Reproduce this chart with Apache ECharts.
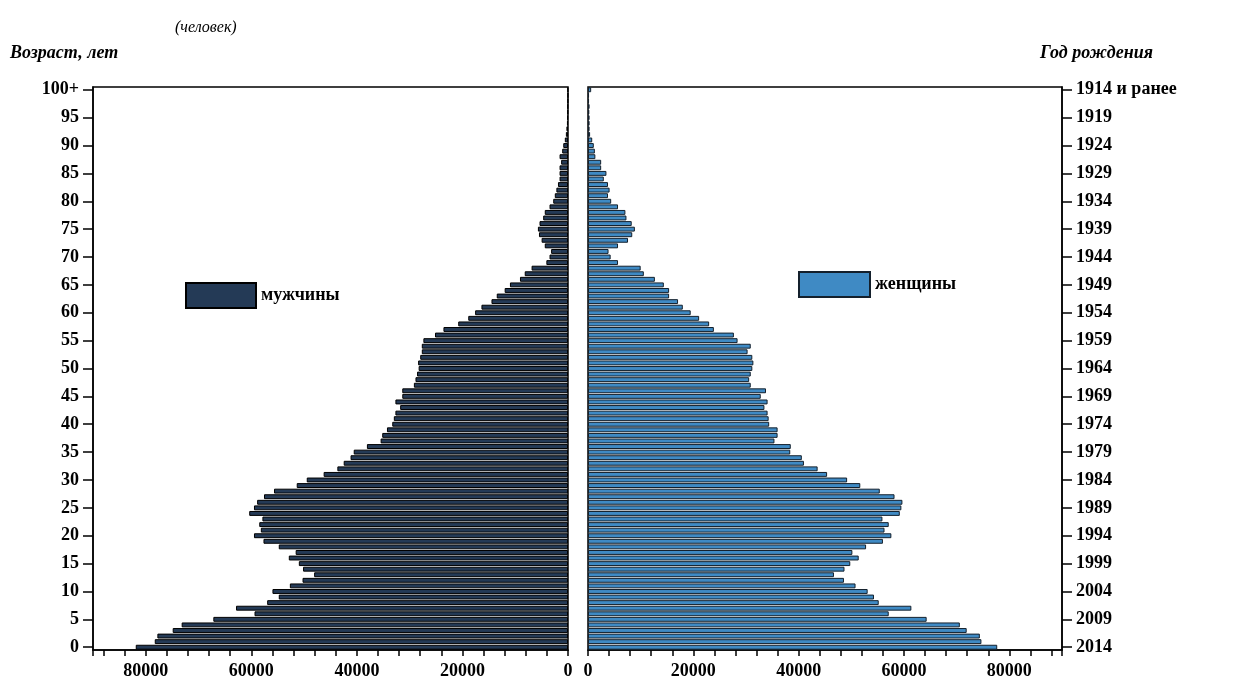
<!DOCTYPE html>
<html lang="ru">
<head>
<meta charset="UTF-8">
<title>Возрастная пирамида</title>
<script src="https://cdn.jsdelivr.net/npm/echarts@6/dist/echarts.min.js"></script>
<style>body{margin:0;background:#fff}</style>
</head>
<body>
<div id="chart" style="width:1239px;height:700px;"></div>
<script>
// возраст 0..100+, значения в тысячах человек
var ages = [];
for (var i = 0; i <= 100; i++) ages.push(i === 100 ? '100+' : String(i));

var men = [81.9,78.3,77.8,74.9,73.2,67.2,59.4,62.9,57.0,54.8,
  56.0,52.7,50.3,48.1,50.2,51.0,52.9,51.6,54.8,57.7,
  59.5,58.2,58.5,57.9,60.4,59.5,58.9,57.6,55.7,51.4,
  49.5,46.3,43.7,42.5,41.2,40.6,38.1,35.5,35.2,34.3,
  33.3,33.0,32.7,31.8,32.7,31.4,31.4,29.2,28.9,28.6,
  28.3,28.4,28.0,27.7,27.7,27.4,25.2,23.6,20.8,18.9,
  17.6,16.4,14.5,13.5,12.0,11.0,9.1,8.2,6.9,4.1,
  3.5,3.2,4.4,5.0,5.5,5.7,5.4,4.7,4.4,3.5,
  2.8,2.5,2.2,1.9,1.6,1.6,1.6,1.3,1.6,1.1,
  0.9,0.6,0.4,0.3,0.2,0.15,0.1,0.08,0.05,0.03,0.05];

var women = [77.7,74.7,74.4,71.9,70.6,64.3,57.1,61.4,55.2,54.3,
  53.1,50.8,48.6,46.7,48.7,49.8,51.4,50.2,52.8,56.0,
  57.6,56.3,57.1,55.9,59.2,59.5,59.7,58.2,55.4,51.7,
  49.2,45.4,43.6,41.0,40.6,38.4,38.5,35.4,36.0,36.0,
  34.4,34.3,34.1,33.5,34.1,32.8,33.8,30.9,30.6,30.9,
  31.2,31.4,31.2,30.3,30.9,28.4,27.7,23.9,23.0,21.1,
  19.5,18.0,17.1,15.4,15.4,14.4,12.7,10.6,10.0,5.7,
  4.3,3.9,5.7,7.6,8.4,8.9,8.3,7.3,7.1,5.7,
  4.4,3.8,4.1,3.8,3.0,3.5,2.5,2.5,1.4,1.3,
  1.1,0.8,0.4,0.3,0.3,0.3,0.25,0.3,0.2,0.2,0.6];

var xTicks = [0, 20000, 40000, 60000, 80000];

var font = {fontFamily: 'Liberation Serif', fontWeight: 'bold', fontSize: 18, color: '#000'};
var chart = echarts.init(document.getElementById('chart'));

function xAxisFor(idx, inverse) {
  return {
    gridIndex: idx, type: 'value', inverse: inverse, min: 0, max: 90000, interval: 20000,
    axisLine: {show: true, lineStyle: {color: '#000', width: 1.5}},
    axisTick: {show: true, length: 6, lineStyle: {color: '#000', width: 1.5}},
    minorTick: {show: true, splitNumber: 5, length: 6, lineStyle: {color: '#000', width: 1.5}},
    splitLine: {show: false},
    axisLabel: Object.assign({margin: 12, showMaxLabel: false,
      formatter: function (v) { return xTicks.indexOf(v) >= 0 ? String(v) : ''; }}, font)
  };
}

function yAxisFor(idx, pos, fmt) {
  return {
    gridIndex: idx, type: 'category', data: ages, position: pos,
    axisLine: {show: true, onZero: false, lineStyle: {color: '#000', width: 1.5}},
    axisTick: {show: true, alignWithLabel: true, interval: 4, length: 10, lineStyle: {color: '#000', width: 1.5}},
    axisLabel: Object.assign({interval: 4, margin: 14, formatter: fmt}, font)
  };
}

var legendText = {fontFamily: 'Liberation Serif', fontWeight: 'bold', fontSize: 18, color: '#000'};

chart.setOption({
  animation: false,
  grid: [
    {left: 93, right: 671, top: 87, bottom: 50, show: true, borderColor: '#000', borderWidth: 1.5},
    {left: 588, right: 177, top: 87, bottom: 50, show: true, borderColor: '#000', borderWidth: 1.5}
  ],
  legend: [
    {data: ['мужчины'], icon: 'rect', left: 180, top: 277, itemWidth: 70, itemHeight: 25, itemGap: 16, textStyle: legendText},
    {data: ['женщины'], icon: 'rect', left: 793, top: 266, itemWidth: 71, itemHeight: 25, itemGap: 16, textStyle: legendText}
  ],
  xAxis: [xAxisFor(0, true), xAxisFor(1, false)],
  yAxis: [
    yAxisFor(0, 'left', function (v) { return v; }),
    yAxisFor(1, 'right', function (v, i) { return i === 100 ? '1914 и ранее' : String(2014 - i); })
  ],
  series: [
    {name: 'мужчины', type: 'bar', xAxisIndex: 0, yAxisIndex: 0, barCategoryGap: '12%',
      data: men.map(function (v) { return v * 1000; }),
      itemStyle: {color: '#243a56', borderColor: '#000', borderWidth: 1}},
    {name: 'женщины', type: 'bar', xAxisIndex: 1, yAxisIndex: 1, barCategoryGap: '12%',
      data: women.map(function (v) { return v * 1000; }),
      itemStyle: {color: '#3f8ac4', borderColor: '#14202c', borderWidth: 1}}
  ],
  graphic: [
    {type: 'text', left: 175, top: 20, style: {text: '(человек)', fontFamily: 'Liberation Serif', fontStyle: 'italic', fontSize: 16, fill: '#000'}},
    {type: 'text', left: 10, top: 44, style: {text: 'Возраст, лет', fontFamily: 'Liberation Serif', fontStyle: 'italic', fontWeight: 'bold', fontSize: 18, fill: '#000'}},
    {type: 'text', left: 1040, top: 44, style: {text: 'Год рождения', fontFamily: 'Liberation Serif', fontStyle: 'italic', fontWeight: 'bold', fontSize: 18, fill: '#000'}}
  ]
});
</script>
</body>
</html>
